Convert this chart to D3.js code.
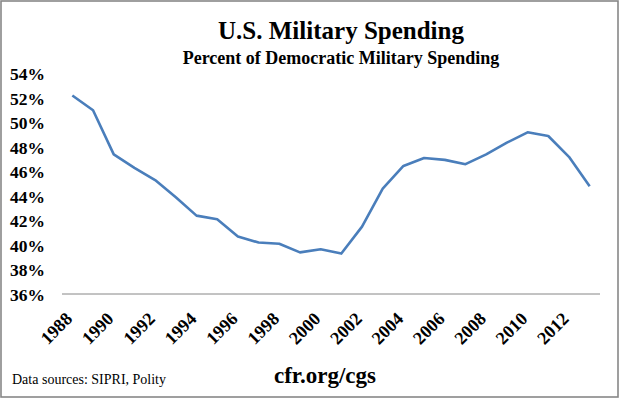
<!DOCTYPE html>
<html>
<head>
<meta charset="utf-8">
<script src="https://d3js.org/d3.v7.min.js"></script>
<style>
  body { margin: 0; background: #fff; }
  svg text { font-family: 'Liberation Serif', 'Times New Roman', serif; fill: #000; }
</style>
</head>
<body>
<div id="chart"></div>
<script>
// data
var years = [1988, 1989, 1990, 1991, 1992, 1993, 1994, 1995, 1996, 1997, 1998, 1999, 2000,
             2001, 2002, 2003, 2004, 2005, 2006, 2007, 2008, 2009, 2010, 2011, 2012, 2013];
var usShare = [52.2, 51.0, 47.4, 46.3, 45.3, 43.9, 42.4, 42.1, 40.7, 40.2, 40.1, 39.4, 39.65,
               39.3, 41.5, 44.6, 46.45, 47.1, 46.95, 46.6, 47.4, 48.35, 49.2, 48.9, 47.2, 44.8];
var yTicks = [36, 38, 40, 42, 44, 46, 48, 50, 52, 54];
var xLabels = [1988, 1990, 1992, 1994, 1996, 1998, 2000, 2002, 2004, 2006, 2008, 2010, 2012];

var W = 620, H = 399;
var margin = {top: 73.5, right: 20, bottom: 105, left: 62};
var serif = "'Liberation Serif', serif";

var svg = d3.select("#chart")
  .append("svg")
    .attr("width", W)
    .attr("height", H);

// outer frame
svg.append("rect")
  .attr("x", 1).attr("y", 1)
  .attr("width", W - 3).attr("height", H - 3)
  .attr("fill", "#fff")
  .attr("stroke", "#878787")
  .attr("stroke-width", 1.6);

var x = d3.scaleBand()
  .domain(years)
  .range([margin.left, W - margin.right]);

var y = d3.scaleLinear()
  .domain([36, 54])
  .range([H - margin.bottom, margin.top]);

// y labels, no ticks
var yAxis = svg.append("g")
  .attr("transform", "translate(45,0)")
  .call(d3.axisLeft(y).tickValues(yTicks).tickSize(0).tickPadding(0)
        .tickFormat(function(d) { return d + "%"; }));
yAxis.attr("font-family", null);
yAxis.select(".domain").remove();
yAxis.selectAll("text")
  .style("font-family", serif)
  .style("font-size", "17.5px")
  .style("font-weight", "bold")
  .attr("dy", "0.35em");

// baseline
svg.append("line")
  .attr("x1", margin.left)
  .attr("x2", W - margin.right)
  .attr("y1", y(36))
  .attr("y2", y(36))
  .style("stroke", "#868686")
  .style("stroke-width", 1);

// rotated year labels
svg.selectAll(".xlab")
  .data(xLabels)
  .enter()
  .append("text")
    .attr("class", "xlab")
    .attr("transform", function(d) {
      return "translate(" + (x(d) + x.bandwidth() / 2 + 1) + "," + (y(36) + 26) + ") rotate(-45)";
    })
    .attr("text-anchor", "end")
    .style("font-family", serif)
    .style("font-size", "18px")
    .style("font-weight", "bold")
    .text(function(d) { return d; });

// the line
var line = d3.line()
  .x(function(d, i) { return x(years[i]) + x.bandwidth() / 2; })
  .y(function(d) { return y(d); });
svg.append("path")
  .attr("fill", "none")
  .attr("stroke", "#4a7ebb")
  .attr("stroke-width", 2.6)
  .attr("stroke-linejoin", "round")
  .attr("d", line(usShare));

// titles
svg.append("text")
  .attr("x", 341).attr("y", 38.5)
  .attr("text-anchor", "middle")
  .style("font-family", serif)
  .style("font-size", "25px")
  .style("font-weight", "bold")
  .text("U.S. Military Spending");

svg.append("text")
  .attr("x", 341).attr("y", 63.5)
  .attr("text-anchor", "middle")
  .style("font-family", serif)
  .style("font-size", "18px")
  .style("font-weight", "bold")
  .text("Percent of Democratic Military Spending");

// footer
svg.append("text")
  .attr("x", 12).attr("y", 383.5)
  .style("font-family", serif)
  .style("font-size", "14px")
  .text("Data sources: SIPRI, Polity");

svg.append("text")
  .attr("x", 325).attr("y", 383)
  .attr("text-anchor", "middle")
  .style("font-family", serif)
  .style("font-size", "23px")
  .style("font-weight", "bold")
  .text("cfr.org/cgs");
</script>
</body>
</html>
